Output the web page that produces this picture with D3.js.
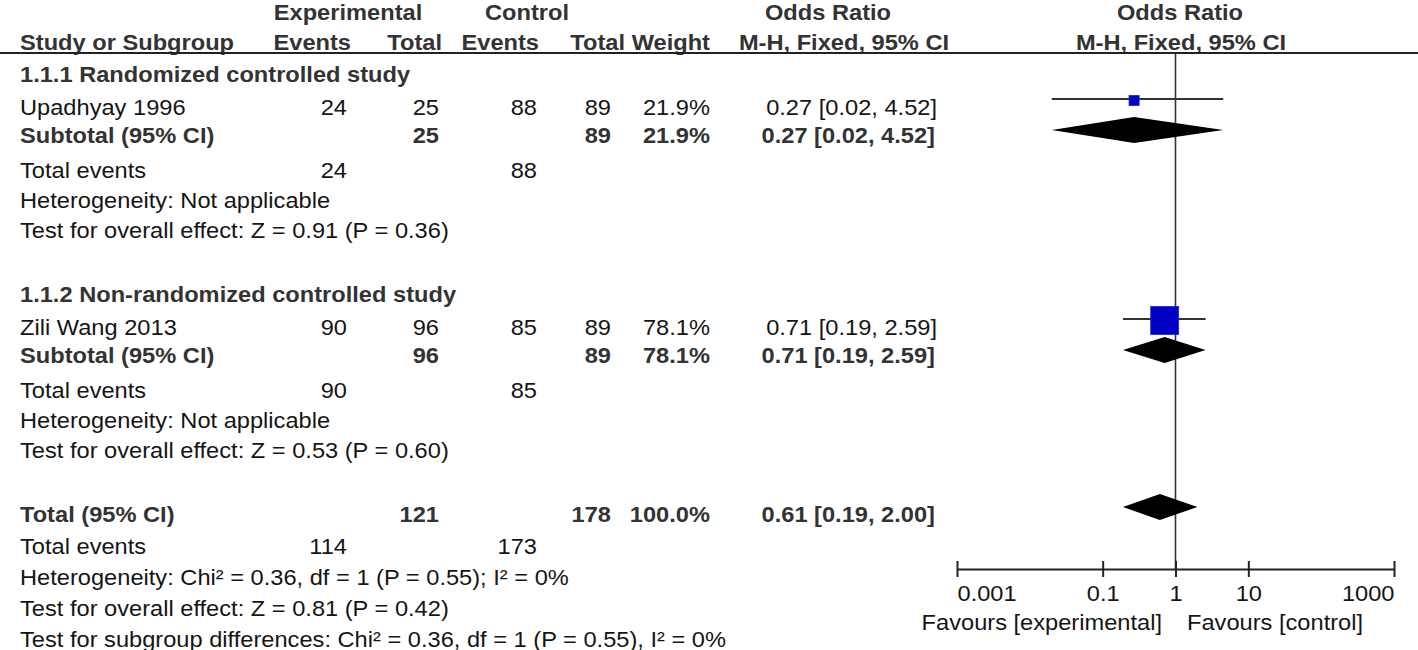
<!DOCTYPE html>
<html><head><meta charset="utf-8">
<script src="https://cdn.jsdelivr.net/npm/d3@7"></script>
<style>
html,body{margin:0;padding:0;background:#fff;}
svg text{font-family:"Liberation Sans",Arial,Helvetica,sans-serif;font-size:22px;}
</style></head>
<body>
<svg id="chart" width="1418" height="650"></svg>
<script>
// ---------- data ----------
const groups = ["1.1.1 Randomized controlled study", "1.1.2 Non-randomized controlled study"];
const studies = ["Upadhyay 1996", "Zili Wang 2013"];
const expEvents = [24, 90];
const expTotal = [25, 96];
const ctrlEvents = [88, 85];
const ctrlTotal = [89, 89];
const weights = [21.9, 78.1];
const orEst = [0.27, 0.71];
const orLow = [0.02, 0.19];
const orHigh = [4.52, 2.59];
const subHetero = ["Heterogeneity: Not applicable", "Heterogeneity: Not applicable"];
const subTest = ["Test for overall effect: Z = 0.91 (P = 0.36)", "Test for overall effect: Z = 0.53 (P = 0.60)"];
const totalExpEvents = 114, totalCtrlEvents = 173;
const totalExpN = 121, totalCtrlN = 178, totalWeight = 100.0;
const totalOR = [0.61, 0.19, 2.00];
const totalLines = [
  "Heterogeneity: Chi\u00b2 = 0.36, df = 1 (P = 0.55); I\u00b2 = 0%",
  "Test for overall effect: Z = 0.81 (P = 0.42)",
  "Test for subgroup differences: Chi\u00b2 = 0.36, df = 1 (P = 0.55), I\u00b2 = 0%"
];
const axisTicks = [0.001, 0.1, 1, 10, 1000];
const axisTickLabels = ["0.001", "0.1", "1", "10", "1000"];
const favours = ["Favours [experimental]", "Favours [control]"];

// ---------- layout ----------
const svg = d3.select("#chart");
const SX = 1.075;
const col = {study: 20, expEv: 347, expTot: 439, ctrlEv: 537, ctrlTot: 611, wt: 710, or: 935};
const REG = "#151515", BLD = "#333";

function T(x, y, s, anchor, bold) {
  return svg.append("text")
    .attr("transform", `translate(${x},${y}) scale(${SX},1)`)
    .attr("text-anchor", anchor || "start")
    .attr("font-weight", bold ? "bold" : "normal")
    .attr("fill", bold ? BLD : REG)
    .text(s);
}
const fmt2 = d3.format(".2f");
const ciText = (e, l, h) => `${fmt2(e)} [${fmt2(l)}, ${fmt2(h)}]`;
const pct = d => d3.format(".1f")(d) + "%";

// header
T(348, 20, "Experimental", "middle", true);
T(527, 20, "Control", "middle", true);
T(828, 20, "Odds Ratio", "middle", true);
T(1180, 20, "Odds Ratio", "middle", true);
T(col.study, 50, "Study or Subgroup", "start", true);
T(351, 50, "Events", "end", true);
T(442, 50, "Total", "end", true);
T(539, 50, "Events", "end", true);
T(625, 50, "Total", "end", true);
T(710, 50, "Weight", "end", true);
T(844, 50, "M-H, Fixed, 95% CI", "middle", true);
T(1181, 50, "M-H, Fixed, 95% CI", "middle", true);
svg.append("line").attr("x1", 0).attr("x2", 1418).attr("y1", 53).attr("y2", 53)
  .attr("stroke", "#222").attr("stroke-width", 2);

// forest scale
const x = d3.scaleLog().domain([axisTicks[0], axisTicks[axisTicks.length - 1]]).range([957, 1394]);
const sq = d3.scalePow().exponent(0.8).domain([0, 100]).range([0, 34]);
const axisY = 569;

// vertical line of no effect
svg.append("line").attr("x1", x(1)).attr("x2", x(1)).attr("y1", 53).attr("y2", axisY)
  .attr("stroke", "#333").attr("stroke-width", 1.6);

function diamond(yc, est, lo, hi) {
  const h = 13;
  svg.append("path")
    .attr("d", `M${x(lo)},${yc}L${x(est)},${yc - h}L${x(hi)},${yc}L${x(est)},${yc + h}Z`)
    .attr("fill", "#000");
}

// groups
const groupBase = [82, 302];
groups.forEach((g, i) => {
  const b = groupBase[i];
  T(col.study, b, g, "start", true);
  const ys = b + 33, yst = b + 61, yte = b + 96, yh = b + 126, yt = b + 156;
  // study row
  T(col.study, ys, studies[i]);
  T(col.expEv, ys, expEvents[i], "end");
  T(col.expTot, ys, expTotal[i], "end");
  T(col.ctrlEv, ys, ctrlEvents[i], "end");
  T(col.ctrlTot, ys, ctrlTotal[i], "end");
  T(col.wt, ys, pct(weights[i]), "end");
  T(col.or + 2, ys, ciText(orEst[i], orLow[i], orHigh[i]), "end");
  const my = ys - 14.5;
  svg.append("line").attr("x1", x(orLow[i])).attr("x2", x(orHigh[i])).attr("y1", my - 1.5).attr("y2", my - 1.5)
    .attr("stroke", "#333").attr("stroke-width", 2);
  const s = sq(weights[i]);
  svg.append("rect").attr("x", x(orEst[i]) - s / 2).attr("y", my - s / 2).attr("width", s).attr("height", s)
    .attr("fill", "#0000c4").attr("stroke", "#2020d8").attr("stroke-width", 0.8);
  // subtotal
  T(col.study, yst, "Subtotal (95% CI)", "start", true);
  T(col.expTot, yst, expTotal[i], "end", true);
  T(col.ctrlTot, yst, ctrlTotal[i], "end", true);
  T(col.wt, yst, pct(weights[i]), "end", true);
  T(col.or, yst, ciText(orEst[i], orLow[i], orHigh[i]), "end", true);
  diamond(yst - 13, orEst[i], orLow[i], orHigh[i]);
  // totals
  T(col.study, yte, "Total events");
  T(col.expEv, yte, expEvents[i], "end");
  T(col.ctrlEv, yte, ctrlEvents[i], "end");
  T(col.study, yh, subHetero[i]);
  T(col.study, yt, subTest[i]);
});

// overall
const tb = 522;
T(col.study, tb, "Total (95% CI)", "start", true);
T(col.expTot, tb, totalExpN, "end", true);
T(col.ctrlTot, tb, totalCtrlN, "end", true);
T(col.wt, tb, pct(totalWeight), "end", true);
T(col.or, tb, ciText(totalOR[0], totalOR[1], totalOR[2]), "end", true);
diamond(tb - 15, totalOR[0], totalOR[1], totalOR[2]);
T(col.study, 554, "Total events");
T(col.expEv, 554, totalExpEvents, "end");
T(col.ctrlEv, 554, totalCtrlEvents, "end");
totalLines.forEach((s, i) => T(col.study, 585 + i * 31, s));

// axis
const ax = svg.append("g").attr("transform", `translate(0,${axisY})`)
  .call(d3.axisBottom(x).tickValues(axisTicks).tickFormat((d, i) => axisTickLabels[i]).tickSizeOuter(0).tickSizeInner(8));
ax.select(".domain").attr("stroke", "#222").attr("stroke-width", 2);
ax.selectAll(".tick line").attr("y1", -8).attr("y2", 8).attr("stroke", "#222").attr("stroke-width", 2);
ax.selectAll(".tick text")
  .attr("y", 32).attr("dy", 0)
  .attr("font-size", 22)
  .attr("font-family", '"Liberation Sans",Arial,sans-serif')
  .attr("fill", REG)
  .attr("transform", `scale(${SX},1)`)
  .attr("text-anchor", (d, i) => i === 0 ? "start" : (i === axisTicks.length - 1 ? "end" : "middle"));
T(1162, 630, favours[0], "end");
T(1187, 630, favours[1], "start");
</script>
</body></html>
